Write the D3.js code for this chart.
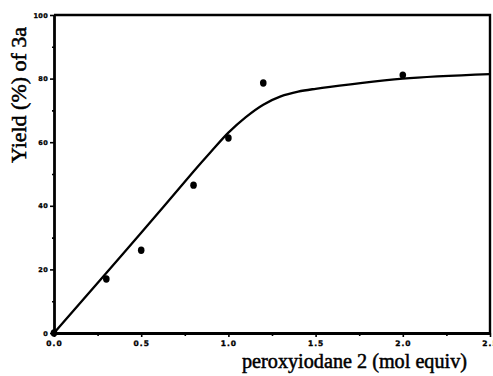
<!DOCTYPE html>
<html><head><meta charset="utf-8">
<script src="https://cdn.jsdelivr.net/npm/d3@7"></script>
<style>body{margin:0;background:#fff}svg{display:block}</style>
</head><body>
<svg id="c" width="493" height="376"></svg>
<script>
const xDomain = [0, 2.5];
const yDomain = [0, 100];
const xTicks = [0, 0.5, 1.0, 1.5, 2.0, 2.5];
const xTickLabels = ["0.0", "0.5", "1.0", "1.5", "2.0", "2.5"];
const xMinor = [0.25, 0.75, 1.25, 1.75, 2.25];
const yTicks = [0, 20, 40, 60, 80, 100];
const yMinor = [10, 30, 50, 70, 90];
const pointX = [0, 0.3, 0.5, 0.8, 1.0, 1.2, 2.0];
const pointY = [0, 17, 26, 46.5, 61.3, 78.6, 81.1];
const curveX = [0, 0.3, 0.5, 0.8, 0.9, 1.0, 1.1, 1.2, 1.3, 1.4, 1.5, 1.7, 2.0, 2.5];
const curveY = [0, 18.9, 31.5, 50.8, 57, 63.0, 67.9, 71.8, 74.4, 75.9, 76.8, 78.2, 80.0, 81.4];
const xTitle = "peroxyiodane 2 (mol equiv)";
const yTitle = "Yield (%) of 3a";

const svg = d3.select("#c");
const L = 54, R = 490, T = 15, B = 333;
const x = d3.scaleLinear().domain(xDomain).range([L, R]);
const y = d3.scaleLinear().domain(yDomain).range([B, T]);

// frame (top and right)
svg.append("path").attr("d", `M${L},${T}H${R}V${B}`).attr("fill","none").attr("stroke","#000").attr("stroke-width",2.4);

const tickFont = "bold 7.5px 'DejaVu Sans', Arial, sans-serif";

// x axis
const xa = svg.append("g").attr("transform", `translate(0,${B})`)
  .call(d3.axisBottom(x).tickValues(xTicks).tickFormat((d,i)=>xTickLabels[i]).tickSize(4).tickSizeOuter(0).tickPadding(4));
xa.select(".domain").attr("stroke","#000").attr("stroke-width", 2.8);
xa.selectAll(".tick line").attr("stroke","#000").attr("stroke-width", 1.6);
xa.selectAll("text").style("font", tickFont).style("letter-spacing","1px")
  .attr("fill","#000").attr("stroke","#000").attr("stroke-width",0.35);
svg.append("g").attr("transform", `translate(0,${B})`)
  .call(d3.axisBottom(x).tickValues(xMinor).tickFormat("").tickSize(3).tickSizeOuter(0))
  .call(g=>g.select(".domain").remove())
  .selectAll("line").attr("stroke","#000").attr("stroke-width",1.6);

// y axis
const ya = svg.append("g").attr("transform", `translate(${L},0)`)
  .call(d3.axisLeft(y).tickValues(yTicks).tickSize(4).tickSizeOuter(0).tickPadding(2));
ya.select(".domain").attr("stroke","#000").attr("stroke-width", 2.8);
ya.selectAll(".tick line").attr("stroke","#000").attr("stroke-width", 1.6);
ya.selectAll("text").style("font", "bold 6.5px 'DejaVu Sans', Arial, sans-serif").style("letter-spacing","0.3px")
  .attr("fill","#000").attr("stroke","#000").attr("stroke-width",0.3);
svg.append("g").attr("transform", `translate(${L},0)`)
  .call(d3.axisLeft(y).tickValues(yMinor).tickFormat("").tickSize(2).tickSizeOuter(0))
  .call(g=>g.select(".domain").remove())
  .selectAll("line").attr("stroke","#000").attr("stroke-width",1.6);

// curve
const curveData = curveX.map((v,i)=>[v, curveY[i]]);
svg.append("path").datum(curveData)
  .attr("d", d3.line().x(d=>x(d[0])).y(d=>y(d[1])).curve(d3.curveCatmullRom.alpha(0.5)))
  .attr("fill","none").attr("stroke","#000").attr("stroke-width",2.3);

// points
svg.append("g").selectAll("ellipse").data(pointX.map((v,i)=>[v, pointY[i]])).join("ellipse")
  .attr("cx", d=>x(d[0])).attr("cy", d=>y(d[1])).attr("rx",3.3).attr("ry",3.7).attr("fill","#000");

// titles
const titleFont = "20px 'Liberation Serif', 'Times New Roman', serif";
svg.append("text").attr("x", 354.5).attr("y", 368).attr("text-anchor","middle")
  .attr("textLength", 225).attr("lengthAdjust","spacingAndGlyphs")
  .attr("stroke","#000").attr("stroke-width",0.5)
  .style("font",titleFont).text(xTitle);
svg.append("text").attr("transform","translate(26,95) rotate(-90)").attr("text-anchor","middle")
  .attr("textLength", 136).attr("lengthAdjust","spacingAndGlyphs")
  .attr("stroke","#000").attr("stroke-width",0.5)
  .style("font",titleFont).text(yTitle);
</script>
</body></html>
